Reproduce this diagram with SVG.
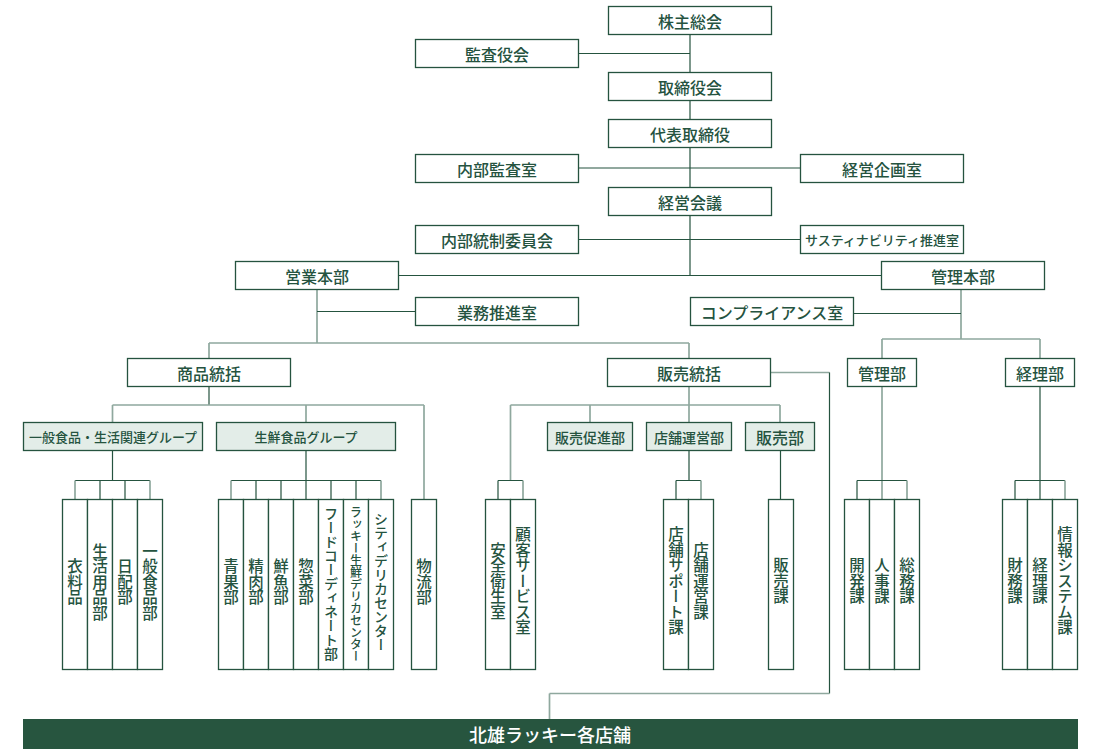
<svg xmlns="http://www.w3.org/2000/svg" width="1101" height="749" viewBox="0 0 1101 749">
<style>
.b{fill:#fff;stroke:#25533f;stroke-width:1.3}
.g{fill:#e3ede8;stroke:#25533f;stroke-width:1.3}
.t{font-family:"Noto Sans CJK JP","Noto Sans",sans-serif;font-weight:500;fill:#25533f;text-anchor:middle;dominant-baseline:central;font-size:16px}
.v{writing-mode:vertical-rl;font-size:15.5px}
.s13{font-size:13px}.s14{font-size:14px}.s12{font-size:12px}
.d{stroke:#25533f;stroke-width:1.2;fill:none}
.l{stroke:#8fa89e;stroke-width:1.7;fill:none}
</style>
<rect width="1101" height="749" fill="#fff"/>
<g id="connectors">
<path class="d" d="M690 34.5V275.5M578.5 53.5H690M578.5 168H800.5M578.5 239.5H800.5M398.5 275.5H881.5"/>
<path class="l" d="M317 289.5V343M209 343H689M209 343V358.5M689 343V358.5"/>
<path class="d" d="M317 311.5H415.5"/>
<path class="l" d="M961 289.5V339M882 339H1040M882 339V358.5M1040 339V358.5"/>
<path class="d" d="M853.5 313.5H961"/>
<path class="d" d="M209 386.5V405"/>
<path class="l" d="M112.5 405H424M112.5 405V422.5M306 405V422.5M424 405V499.5"/>
<path class="d" d="M112.5 450.5V480.5M75 480.5H150M100 480.5V499.5M125 480.5V499.5"/>
<path class="l" d="M75 480.5V499.5M150 480.5V499.5"/>
<path class="d" d="M306 450.5V480.5M231 480.5H381M256 480.5V499.5M281 480.5V499.5M306 480.5V499.5M331 480.5V499.5M356 480.5V499.5"/>
<path class="l" d="M231 480.5V499.5M381 480.5V499.5"/>
<path class="l" d="M689 386.5V405M510.5 405H780M510.5 405V480.5M590 405V422.5M689 405V422.5M780 405V422.5"/>
<path class="d" d="M498 480.5H523M498 480.5V499.5"/>
<path class="l" d="M523 480.5V499.5"/>
<path class="d" d="M689 450.5V480.5M676 480.5H701M676 480.5V499.5"/>
<path class="l" d="M701 480.5V499.5"/>
<path class="d" d="M780.5 450.5V499.5"/>
<path class="l" d="M882 386.5V499.5"/>
<path class="d" d="M857 480.5H907M857 480.5V499.5"/>
<path class="l" d="M907 480.5V499.5"/>
<path class="d" d="M1040 386.5V499.5M1015 480.5H1065M1015 480.5V499.5"/>
<path class="l" d="M1065 480.5V499.5"/>
<path class="l" d="M770.5 372.5H829.5"/>
<path class="d" d="M829.5 372.5V693.5"/>
<path class="l" d="M549.5 693.5H829.5M549.5 693.5V719"/>
</g>
<g id="n-kabunushi"><rect class="b" x="608.5" y="6.5" width="163" height="28"/><text class="t" x="690" y="20.5">株主総会</text></g>
<g id="n-kansayaku"><rect class="b" x="415.5" y="39.5" width="163" height="28"/><text class="t" x="497" y="53.5">監査役会</text></g>
<g id="n-torishimariyaku"><rect class="b" x="608.5" y="72.5" width="163" height="28"/><text class="t" x="690" y="86.5">取締役会</text></g>
<g id="n-daihyo"><rect class="b" x="608.5" y="119.5" width="163" height="28"/><text class="t" x="690" y="133.5">代表取締役</text></g>
<g id="n-naibukansa"><rect class="b" x="415.5" y="154.5" width="163" height="28"/><text class="t" x="497" y="168.5">内部監査室</text></g>
<g id="n-keieikikaku"><rect class="b" x="800.5" y="154.5" width="163" height="28"/><text class="t" x="882" y="168.5">経営企画室</text></g>
<g id="n-keieikaigi"><rect class="b" x="608.5" y="187.5" width="163" height="28"/><text class="t" x="690" y="201.5">経営会議</text></g>
<g id="n-naibutosei"><rect class="b" x="415.5" y="225.5" width="163" height="28"/><text class="t" x="497" y="239.5">内部統制委員会</text></g>
<g id="n-sustainability"><rect class="b" x="800.5" y="225.5" width="163" height="28"/><text class="t s13" x="882" y="239.5">サスティナビリティ推進室</text></g>
<g id="n-eigyohonbu"><rect class="b" x="235.5" y="261.5" width="163" height="28"/><text class="t" x="317" y="275.5">営業本部</text></g>
<g id="n-kanrihonbu"><rect class="b" x="881.5" y="261.5" width="163" height="28"/><text class="t" x="963" y="275.5">管理本部</text></g>
<g id="n-gyomusuishin"><rect class="b" x="415.5" y="297.5" width="163" height="28"/><text class="t" x="497" y="311.5">業務推進室</text></g>
<g id="n-compliance"><rect class="b" x="690.5" y="297.5" width="163" height="28"/><text class="t" x="772" y="311.5">コンプライアンス室</text></g>
<g id="n-shohin"><rect class="b" x="127.5" y="358.5" width="163" height="28"/><text class="t" x="209" y="372.5">商品統括</text></g>
<g id="n-hanbai"><rect class="b" x="607.5" y="358.5" width="163" height="28"/><text class="t" x="689" y="372.5">販売統括</text></g>
<g id="n-kanribu"><rect class="b" x="847.5" y="358.5" width="69" height="28"/><text class="t" x="882" y="372.5">管理部</text></g>
<g id="n-keiribu"><rect class="b" x="1005.5" y="358.5" width="69" height="28"/><text class="t" x="1040" y="372.5">経理部</text></g>
<g id="n-ippan"><rect class="g" x="23.5" y="422.5" width="179" height="28"/><text class="t s13" x="113" y="436.5">一般食品・生活関連グループ</text></g>
<g id="n-seisen"><rect class="g" x="216.5" y="422.5" width="179" height="28"/><text class="t s13" x="306" y="436.5">生鮮食品グループ</text></g>
<g id="n-hanbaisokushin"><rect class="g" x="547.5" y="422.5" width="85" height="28"/><text class="t s14" x="590" y="436.5">販売促進部</text></g>
<g id="n-tenpounei"><rect class="g" x="646.5" y="422.5" width="85" height="28"/><text class="t s14" x="689" y="436.5">店舗運営部</text></g>
<g id="n-hanbaibu"><rect class="g" x="745.5" y="422.5" width="69" height="28"/><text class="t" x="780" y="436.5">販売部</text></g>
<g id="n-iryohin"><rect class="b" x="62.5" y="499.5" width="25" height="170"/><text class="t v" x="75" y="582">衣料品</text></g>
<g id="n-seikatsu"><rect class="b" x="87.5" y="499.5" width="25" height="170"/><text class="t v" x="100" y="582">生活用品部</text></g>
<g id="n-nippai"><rect class="b" x="112.5" y="499.5" width="25" height="170"/><text class="t v" x="125" y="582">日配部</text></g>
<g id="n-ippanshokuhin"><rect class="b" x="137.5" y="499.5" width="25" height="170"/><text class="t v" x="150" y="582">一般食品部</text></g>
<g id="n-seika"><rect class="b" x="218.5" y="499.5" width="25" height="170"/><text class="t v" x="231" y="582">青果部</text></g>
<g id="n-seiniku"><rect class="b" x="243.5" y="499.5" width="25" height="170"/><text class="t v" x="256" y="582">精肉部</text></g>
<g id="n-sengyo"><rect class="b" x="268.5" y="499.5" width="25" height="170"/><text class="t v" x="281" y="582">鮮魚部</text></g>
<g id="n-sozai"><rect class="b" x="293.5" y="499.5" width="25" height="170"/><text class="t v" x="306" y="582">惣菜部</text></g>
<g id="n-food"><rect class="b" x="318.5" y="499.5" width="25" height="170"/><text class="t v s14" x="331" y="584">フードコーディネート部</text></g>
<g id="n-lucky"><rect class="b" x="343.5" y="499.5" width="25" height="170"/><text class="t v s12" x="356" y="584">ラッキー生鮮デリカセンター</text></g>
<g id="n-city"><rect class="b" x="368.5" y="499.5" width="25" height="170"/><text class="t v s14" x="381" y="582">シティデリカセンター</text></g>
<g id="n-butsuryu"><rect class="b" x="411.5" y="499.5" width="25" height="170"/><text class="t v" x="424" y="582">物流部</text></g>
<g id="n-anzen"><rect class="b" x="485.5" y="499.5" width="25" height="170"/><text class="t v" x="498" y="581">安全衛生室</text></g>
<g id="n-kokyaku"><rect class="b" x="510.5" y="499.5" width="25" height="170"/><text class="t v" x="523" y="581">顧客サービス室</text></g>
<g id="n-tenposupport"><rect class="b" x="663.5" y="499.5" width="25" height="170"/><text class="t v" x="676" y="581">店舗サポート課</text></g>
<g id="n-tenpounei-ka"><rect class="b" x="688.5" y="499.5" width="25" height="170"/><text class="t v" x="701" y="581">店舗運営課</text></g>
<g id="n-hanbaika"><rect class="b" x="768.5" y="499.5" width="25" height="170"/><text class="t v" x="781" y="581">販売課</text></g>
<g id="n-kaihatsu"><rect class="b" x="844.5" y="499.5" width="25" height="170"/><text class="t v" x="857" y="581">開発課</text></g>
<g id="n-jinji"><rect class="b" x="869.5" y="499.5" width="25" height="170"/><text class="t v" x="882" y="581">人事課</text></g>
<g id="n-somu"><rect class="b" x="894.5" y="499.5" width="25" height="170"/><text class="t v" x="907" y="581">総務課</text></g>
<g id="n-zaimu"><rect class="b" x="1002.5" y="499.5" width="25" height="170"/><text class="t v" x="1015" y="581">財務課</text></g>
<g id="n-keiri"><rect class="b" x="1027.5" y="499.5" width="25" height="170"/><text class="t v" x="1040" y="581">経理課</text></g>
<g id="n-joho"><rect class="b" x="1052.5" y="499.5" width="25" height="170"/><text class="t v" x="1065" y="581">情報システム課</text></g>
<g id="n-tenpo"><rect x="23" y="719" width="1055" height="30" fill="#27553f"/><text class="t" x="550" y="734" style="fill:#fff;font-size:18px">北雄ラッキー各店舗</text></g>
</svg>
